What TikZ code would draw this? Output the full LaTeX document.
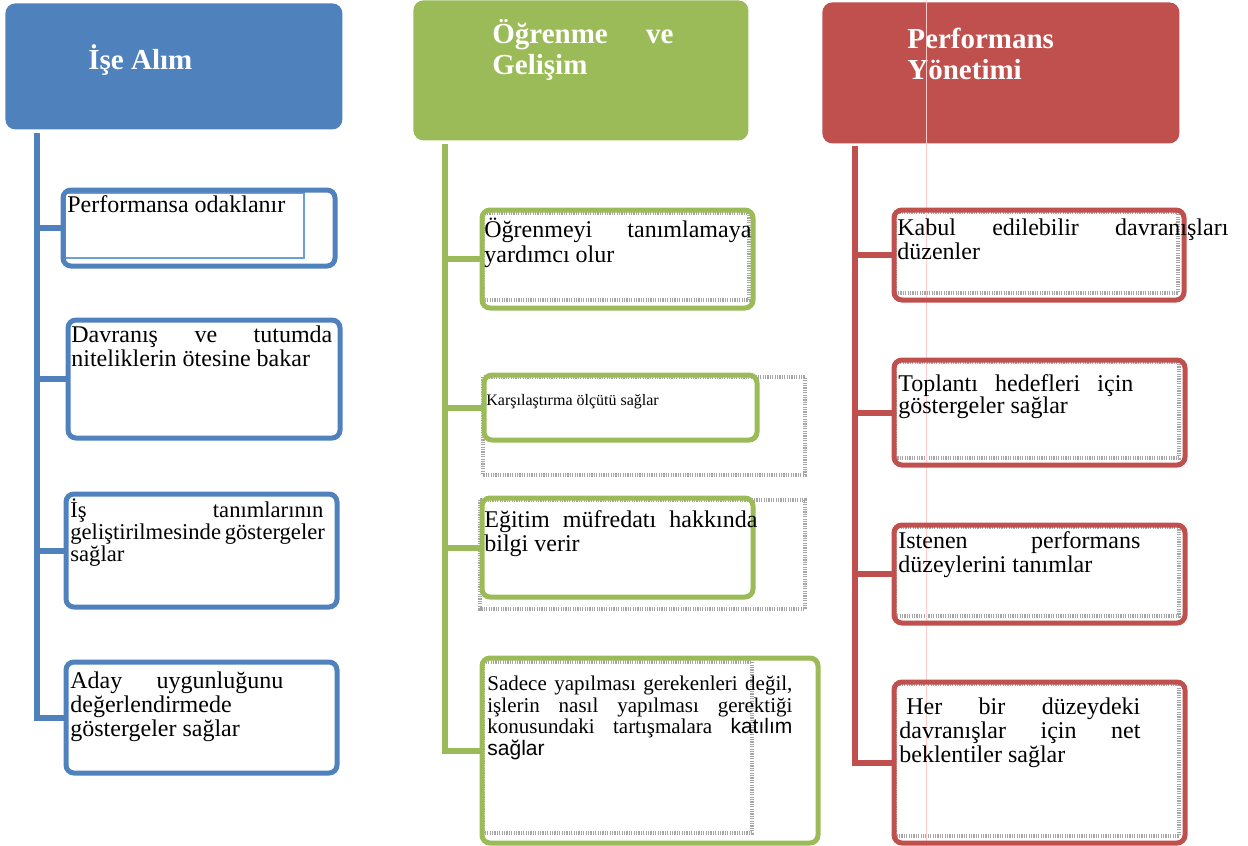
\documentclass[tikz,border=0pt]{standalone}
\usepackage{fontspec}
\setmainfont{Liberation Serif}
\newfontfamily\arialfont{Liberation Sans}
\usepackage{tikz}
\usetikzlibrary{calc}

\definecolor{hrblue}{HTML}{4F81BD}
\definecolor{hrgreen}{HTML}{9BBB59}
\definecolor{hrred}{HTML}{C0504D}
\definecolor{frameblue}{HTML}{6A9FD8}

\newcommand\jline[2]{\makebox[#1][s]{#2}}

\begin{document}
\begin{tikzpicture}[
	x=0.5pt, y=-0.5pt,
	head/.style = {anchor=north west, rounded corners=5pt, inner sep=0pt},
	headtext/.style = {anchor=base west, inner sep=0pt, align=left, text=white, font=\fontsize{14.5}{15.5}\selectfont\bfseries},
	item/.style = {anchor=north west, rounded corners=4pt, line width=2.5pt, inner sep=0pt},
	itemtext/.style = {anchor=base west, inner sep=0pt, align=left, font=\fontsize{12}{12}\selectfont},
	tframe/.style = {draw=black!35, line width=2pt, dash pattern=on 0.6pt off 0.6pt},
	spine/.style = {line width=3pt}
	]
	\useasboundingbox (0,0) rectangle (1248,846);
	
	% Headers
	\node[head, fill=hrblue, minimum width=168.5pt, minimum height=63pt] (ise) at (5,3) {};
	\node[head, fill=hrgreen, minimum width=167.5pt, minimum height=70pt] (ogr) at (413,0) {};
	\node[head, fill=hrred, minimum width=178.5pt, minimum height=70.5pt] (perf) at (822,2) {};
	% (multi-line texts sit on their last baseline)
	\node[headtext] (iset) at (88,69) {İşe Alım};
	\node[headtext] (ogrt) at (492,74) {\jline{90.5pt}{Öğrenme ve}\\Gelişim};
	\node[headtext] (perft) at (907,79) {Performans\\Yönetimi};
	
	% text frames
	\draw[frameblue, line width=0.7pt] (65,193) rectangle (304,258);
	\draw[tframe] (483,213) rectangle (749,300);
	\draw[tframe] (483,377) rectangle (805,475);
	\draw[tframe] (480,500) rectangle (805,609);
	\draw[tframe] (483,662) rectangle (752,833);
	\draw[tframe] (895,212) rectangle (1178,293);
	\draw[tframe] (895,362) rectangle (1179,458);
	\draw[tframe] (895,527) rectangle (1179,616);
	\draw[tframe] (895,684) rectangle (1179,836);
	\draw[red!20, line width=0.4pt] (926,0) -- (926,846);
	
	% Ise Alim boxes
	\node[item, draw=hrblue, minimum width=136pt, minimum height=38pt] (ise1) at (60.5,187.5) {};
	\node[item, draw=hrblue, minimum width=136pt, minimum height=59pt] (ise2) at (65.5,317.5) {};
	\node[item, draw=hrblue, minimum width=135.5pt, minimum height=56.5pt] (ise3) at (63.5,491.5) {};
	\node[item, draw=hrblue, minimum width=135.5pt, minimum height=55.5pt] (ise4) at (63.5,659.5) {};
	\node[itemtext] (ise1t) at (67,212) {Performansa odaklanır};
	\node[itemtext, font=\fontsize{12}{10.5}\selectfont] (ise2t) at (71,366) {\jline{130.5pt}{Davranış ve tutumda}\\niteliklerin ötesine bakar};
	\node[itemtext, font=\fontsize{11.3}{11}\selectfont] (ise3t) at (70,561) {\jline{126.5pt}{İş tanımlarının}\\\jline{126.5pt}{geliştirilmesinde göstergeler}\\sağlar};
	\node[itemtext] (ise4t) at (70,736) {\jline{106.5pt}{Aday uygunluğunu}\\değerlendirmede\\göstergeler sağlar};
	
	% Ogrenme ve Gelisim boxes
	\node[item, draw=hrgreen, minimum width=135.5pt, minimum height=49pt] (ogr1) at (479.5,207.5) {};
	\node[item, draw=hrgreen, minimum width=136.5pt, minimum height=32.5pt] (ogr2) at (481.5,372.5) {};
	\node[item, draw=hrgreen, minimum width=135.5pt, minimum height=49.5pt] (ogr3) at (479.5,495.5) {};
	\node[item, draw=hrgreen, minimum width=168pt, minimum height=92.5pt] (ogr4) at (479.5,655.5) {};
	\node[itemtext, font=\fontsize{12}{12.5}\selectfont] (ogr1t) at (484,262) {\jline{133.5pt}{Öğrenmeyi tanımlamaya}\\yardımcı olur};
	\node[itemtext, font=\fontsize{8}{8}\selectfont] (ogr2t) at (486,405) {Karşılaştırma ölçütü sağlar};
	\node[itemtext] (ogr3t) at (484,551) {\jline{136.5pt}{Eğitim müfredatı hakkında}\\bilgi verir};
	\node[itemtext, font=\fontsize{10.5}{10.75}\selectfont] (ogr4t) at (487,755) {\jline{152.5pt}{Sadece yapılması gerekenleri değil,}\\\jline{152.5pt}{işlerin nasıl yapılması gerektiği}\\\jline{152.5pt}{konusundaki tartışmalara {\arialfont katılım}}\\{\arialfont sağlar}};
	
	% Performans Yonetimi boxes
	\node[item, draw=hrred, minimum width=145pt, minimum height=45pt] (perf1) at (891.5,207.5) {};
	\node[item, draw=hrred, minimum width=145.5pt, minimum height=52.5pt] (perf2) at (891.5,357.5) {};
	\node[item, draw=hrred, minimum width=145.5pt, minimum height=49pt] (perf3) at (891.5,522.5) {};
	\node[item, draw=hrred, minimum width=145.5pt, minimum height=80.5pt] (perf4) at (891.5,679.5) {};
	\node[itemtext] (perf1t) at (897,259) {\jline{165.5pt}{Kabul edilebilir davranışları}\\düzenler};
	\node[itemtext, font=\fontsize{12}{11}\selectfont] (perf2t) at (898,413) {\jline{117.5pt}{Toplantı hedefleri için}\\göstergeler sağlar};
	\node[itemtext, font=\fontsize{12}{10.5}\selectfont] (perf3t) at (898,572) {\jline{121pt}{Istenen performans}\\düzeylerini tanımlar};
	\node[itemtext] (perf4t) at (899,762) {\hspace*{3.5pt}\jline{117pt}{Her bir düzeydeki}\\\jline{120.5pt}{davranışlar için net}\\beklentiler sağlar};
	
	% Spines
	\coordinate (iseS) at (37,133);
	\coordinate (ogrS) at (445,144);
	\coordinate (perfS) at (855,146);
	\draw[spine, hrblue] (iseS) |- (ise4.west);
	\draw[spine, hrgreen] (ogrS) |- (ogr4.west);
	\draw[spine, hrred] (perfS) |- (perf4.west);
	\foreach \i in {1,2,3}{
		\draw[spine, hrblue] (ise\i.west) -- (ise\i.west -| iseS);
		\draw[spine, hrgreen] (ogr\i.west) -- (ogr\i.west -| ogrS);
		\draw[spine, hrred] (perf\i.west) -- (perf\i.west -| perfS);
	}
	
\end{tikzpicture}
\end{document}
